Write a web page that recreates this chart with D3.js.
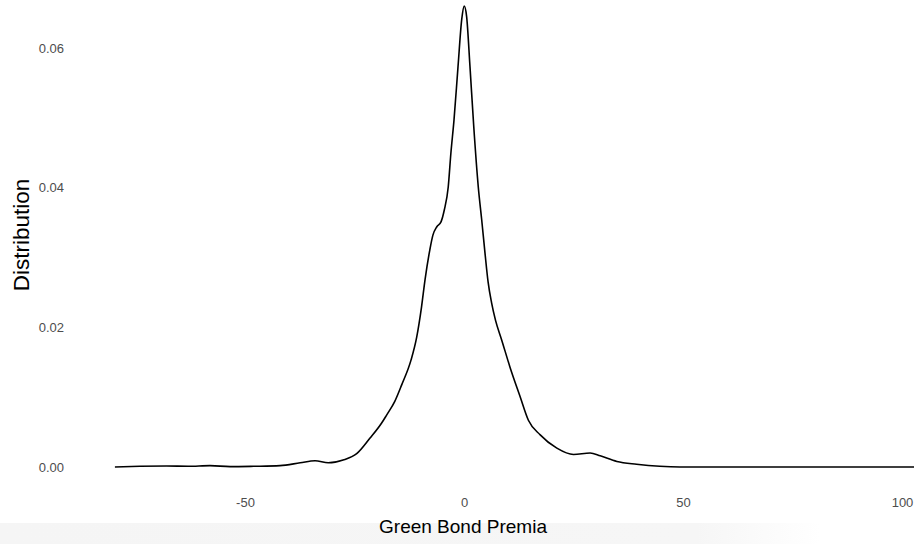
<!DOCTYPE html>
<html>
<head>
<meta charset="utf-8">
<script src="https://cdn.jsdelivr.net/npm/d3@7"></script>
<style>
  body { margin: 0; background: #fff; }
  text { font-family: "Liberation Sans", Arial, sans-serif; }
</style>
</head>
<body>
<script>
 // density estimate of green bond premia
 const premia = [-79.7, -74, -67.9, -63, -58, -53.4, -48, -42, -37.4, -34, -31, -27.6, -24.5, -21.5,
    -18.8, -17.7, -15.8, -14.2, -12.1, -10.8, -9.7, -8.9, -7.8, -7.1, -6.2, -5.25, -4.5, -3.6, -3.0,
    -2.28, -1.37, -0.5, 0.05, 0.6, 1.37, 2.2, 3.26, 4.04, 4.8, 5.5, 6.3, 7.2, 8.6, 10.5, 12.8, 14.7,
    17.4, 21.2, 25.0, 28.8, 31.1, 34.9, 39.4, 44.7, 49.3, 60, 80, 103];
 const density = [0.0000, 0.0001, 0.00014, 0.0001, 0.00019, 0.00005, 0.0001, 0.0002, 0.0006, 0.0009, 0.0006, 0.001, 0.0019, 0.0041,
    0.0063, 0.0074, 0.0094, 0.0118, 0.0153, 0.0186, 0.0229, 0.0268, 0.0311, 0.0332, 0.0344, 0.0351, 0.0368, 0.0401, 0.0449,
    0.0497, 0.0573, 0.0642, 0.0660, 0.0645, 0.0573, 0.0490, 0.0401, 0.0354, 0.0306, 0.0265, 0.0235, 0.0210, 0.0182, 0.0143, 0.0101, 0.0067,
    0.0046, 0.0027, 0.0018, 0.0020, 0.0016, 0.0008, 0.0004, 0.0001, 0.0000, 0.0000, 0.0000, 0.0000];
 const xTicks = [-50, 0, 50, 100];
 const yTicks = [0, 0.02, 0.04, 0.06];

 const data = premia.map((p, i) => ({ x: p, y: density[i] }));

 // constants
 const width = 914;
 const height = 544;

 const svg = d3.select('body').append('svg')
       .attr('width', width).attr('height', height);

 // faint band along the bottom edge
 const grad = svg.append('defs').append('linearGradient').attr('id', 'fade')
 grad.append('stop').attr('offset', '0%').attr('stop-color', '#f5f5f5')
 grad.append('stop').attr('offset', '85%').attr('stop-color', '#f6f6f6')
 grad.append('stop').attr('offset', '100%').attr('stop-color', '#ffffff')
 svg.append('rect').attr('x', 0).attr('y', 523).attr('width', 820).attr('height', 21)
    .attr('fill', 'url(#fade)')

 // scales
 const xScale = d3.scaleLinear().domain([-50, 50]).range([245, 683]);
 const yScale = d3.scaleLinear().domain([0, 0.06]).range([467, 48]);

 // x axis (plain hyphen for negatives, like the original)
 svg.append('g').attr('transform', 'translate(0, 467)')
    .call(d3.axisBottom(xScale).tickValues(xTicks).tickFormat(d => String(d)).tickSize(0).tickPadding(31))
    .call(g => g.select('.domain').remove())
    .selectAll('text').attr('fill', '#4d4d4d').style('font-size', '13px')
    .style('font-family', '"Liberation Sans", Arial, sans-serif');

 // y axis
 svg.append('g').attr('transform', 'translate(64, 0)')
    .call(d3.axisLeft(yScale).tickValues(yTicks).tickFormat(d => d.toFixed(2)).tickSize(0).tickPadding(0))
    .call(g => g.select('.domain').remove())
    .selectAll('text').attr('fill', '#4d4d4d').style('font-size', '13px')
    .style('font-family', '"Liberation Sans", Arial, sans-serif');

 // density line
 const line = d3.line().x(d => xScale(d.x)).y(d => yScale(d.y)).curve(d3.curveMonotoneX);
 svg.append('path').datum(data)
    .attr('d', line)
    .attr('fill', 'none').attr('stroke', '#000').attr('stroke-width', 1.6);

 // titles
 svg.append('text').attr('x', 463).attr('y', 533).attr('text-anchor', 'middle')
    .style('font-size', '19px').attr('fill', '#000').text('Green Bond Premia');
 svg.append('text').attr('transform', 'translate(29, 235) rotate(-90)').attr('text-anchor', 'middle')
    .style('font-size', '22.5px').attr('fill', '#000').text('Distribution');
</script>
</body>
</html>
